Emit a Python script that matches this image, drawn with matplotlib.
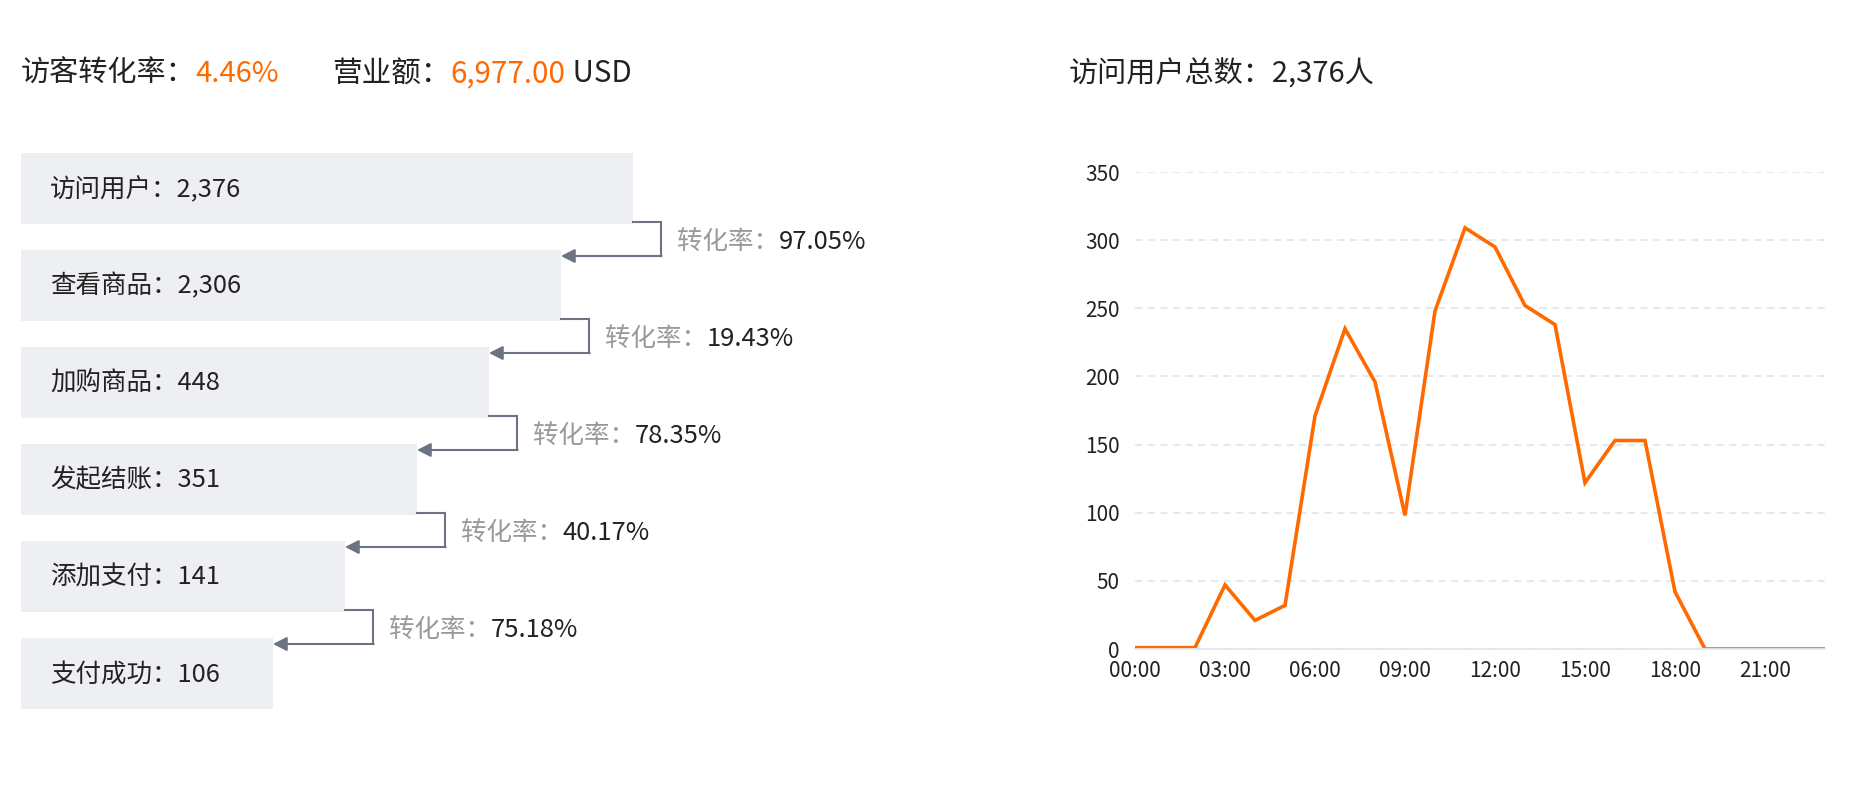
import matplotlib
matplotlib.use('Agg')
import matplotlib.pyplot as plt

plt.rcParams['font.family'] = ['Noto Sans CJK SC', 'DejaVu Sans']

# datos del embudo
etapas = ['访问用户', '查看商品', '加购商品', '发起结账', '添加支付', '支付成功']
cantidades = [2376, 2306, 448, 351, 141, 106]
ingresos = 6977.00

# visitas por hora
horas = list(range(24))
visitas = [1, 1, 1, 47, 21, 32, 171, 235, 196, 98, 248, 309,
           295, 252, 238, 122, 153, 153, 42, 0, 0, 0, 0, 0]
etiquetas_x = [f'{h:02d}:00' for h in range(0, 24, 3)]

NARANJA = '#FF6A00'
OSCURO = '#222222'
GRIS = '#999999'
LINEA = '#6E7383'
BARRA = '#EEEFF3'
REJILLA = '#E0E6F1'

W, H = 1858, 798
fig = plt.figure(figsize=(W / 100, H / 100), dpi=100)

# lienzo en pixeles para el embudo y los titulos
cv = fig.add_axes([0, 0, 1, 1])
cv.set_xlim(0, W)
cv.set_ylim(H, 0)
cv.axis('off')


def texto_encadenado(x, y, partes, size):
    # escribe trozos de texto de distintos colores uno detras de otro
    t = cv.text(x, y, partes[0][0], color=partes[0][1], fontsize=size,
                ha='left', va='center')
    for txt, col in partes[1:]:
        t = cv.annotate(txt, xy=(1, 0.5), xycoords=t, color=col,
                        fontsize=size, ha='left', va='center')
    return t


tasa_visita = cantidades[-1] / cantidades[0] * 100
texto_encadenado(21, 74, [('访客转化率：', OSCURO), (f'{tasa_visita:.2f}%', NARANJA)], 21)
texto_encadenado(332, 74, [('营业额：', OSCURO), (f'{ingresos:,.2f}', NARANJA), (' USD', OSCURO)], 21.3)
texto_encadenado(1069, 74, [(f'访问用户总数：{cantidades[0]:,}人', OSCURO)], 21)

# embudo
x0, y0, alto, paso, paso_ancho, ancho0 = 21, 153, 71, 97, 72, 612
anchos = [ancho0 - i * paso_ancho for i in range(len(etapas))]
tops = [y0 + i * paso for i in range(len(etapas))]
cv.barh([t + alto / 2 for t in tops], anchos, height=alto, left=x0,
        color=BARRA, edgecolor='none')
for i, (nombre, n) in enumerate(zip(etapas, cantidades)):
    cv.text(x0 + 29, tops[i] + alto / 2 + 1, f'{nombre}：{n:,}', color=OSCURO,
            fontsize=18.4, ha='left', va='center')

for i in range(len(etapas) - 1):
    tasa = cantidades[i + 1] / cantidades[i] * 100
    xd = x0 + anchos[i]
    xs = x0 + anchos[i + 1]
    xc = xd + 28
    ya = tops[i] + alto - 2
    yb = tops[i + 1] + 6
    cv.plot([xd, xc, xc], [ya, ya, yb], color=LINEA, lw=1.5,
            solid_joinstyle='miter')
    cv.annotate('', xy=(xs, yb), xytext=(xc + 0.7, yb),
                arrowprops=dict(arrowstyle='-|>,head_length=0.55,head_width=0.28',
                                color=LINEA, lw=1.5, mutation_scale=15,
                                shrinkA=0, shrinkB=0))
    texto_encadenado(xc + 16, (ya + yb) / 2 + 3,
                     [('转化率：', GRIS), (f'{tasa:.2f}%', OSCURO)], 18.4)

# grafico de lineas
izq, der = 1135 / W, 1825 / W
abajo, arriba = 1 - 649 / H, 1 - 172 / H
ax = fig.add_axes([izq, abajo, der - izq, arriba - abajo])
ax.plot(horas, visitas, color=NARANJA, lw=2.6, solid_joinstyle='miter')
ax.set_xlim(0, 23)
ax.set_ylim(0, 350)
ax.set_yticks(range(0, 351, 50))
ax.set_xticks(range(0, 24, 3))
ax.set_xticklabels(etiquetas_x)
ax.tick_params(length=0, labelsize=15, colors=OSCURO)
ax.tick_params(axis='y', pad=11)
ax.tick_params(axis='x', pad=8)
ax.grid(axis='y', color=REJILLA, lw=1.3, linestyle=(0, (4, 3)))
ax.set_axisbelow(True)
for s in ['top', 'right', 'left']:
    ax.spines[s].set_visible(False)
ax.spines['bottom'].set_color(REJILLA)
ax.spines['bottom'].set_linewidth(1.3)
ax.patch.set_alpha(0)

plt.savefig('out.png', dpi=100)
